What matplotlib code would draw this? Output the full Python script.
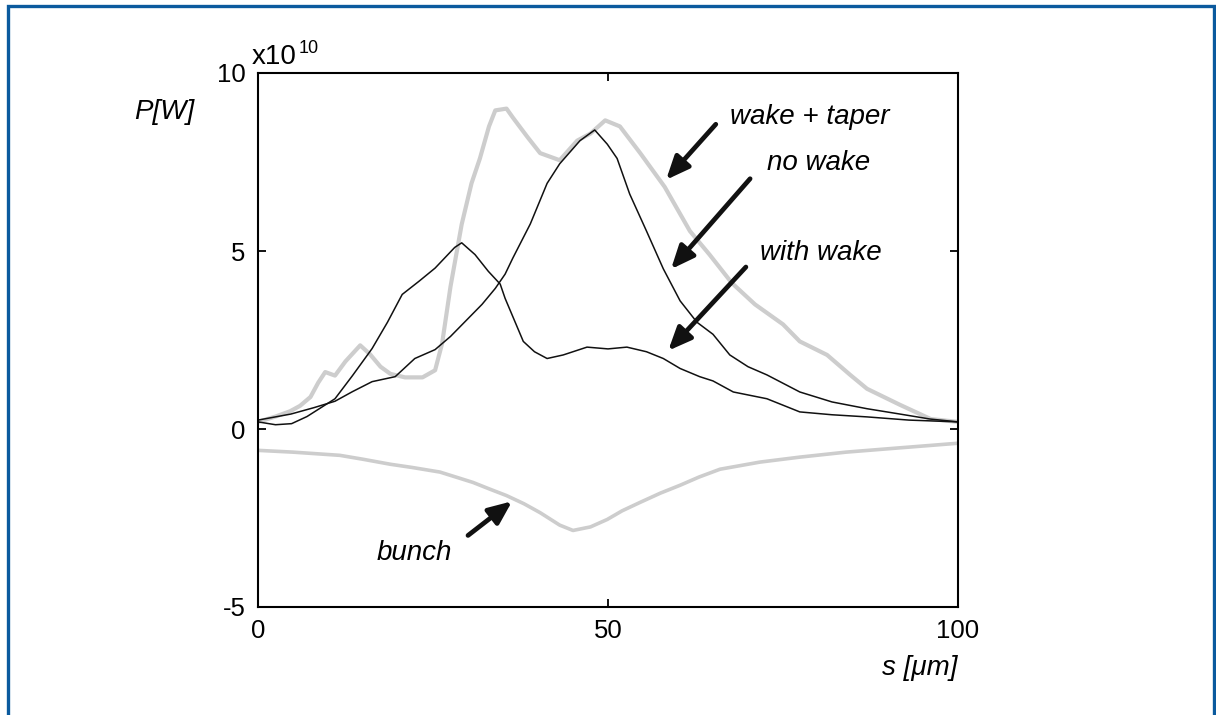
import matplotlib
matplotlib.use("Agg")
import matplotlib.pyplot as plt
from matplotlib.patches import Rectangle

plt.rcParams['font.family'] = ['Liberation Sans', 'DejaVu Sans']
plt.rcParams['axes.unicode_minus'] = False

# ---- data (power in units of 1e10 W, s in micrometres) ----
s_taper = [0, 2.5, 4.6, 6, 7.5, 8.6, 9.6, 11, 12.5, 14.6, 16, 17.5, 18.9, 21, 23.5, 25.3, 26.3,
           27.5, 29.1, 30.5, 31.7, 33.0, 33.9, 35.5, 36.4, 38.5, 40.3, 43.1, 45.6, 47.5, 49.6,
           51.7, 54.6, 58.1, 61.7, 64.5, 67.7, 71, 75, 77.4, 81.3, 84.6, 87, 91.7, 96.1, 100]
p_taper = [0.2, 0.35, 0.5, 0.65, 0.9, 1.3, 1.6, 1.5, 1.9, 2.35, 2.1, 1.75, 1.55, 1.45, 1.45, 1.65, 2.4,
           4.0, 5.75, 6.9, 7.6, 8.5, 8.95, 9.0, 8.75, 8.2, 7.75, 7.55, 8.1, 8.3, 8.67,
           8.5, 7.75, 6.8, 5.56, 4.9, 4.1, 3.5, 2.94, 2.46, 2.08, 1.52, 1.13, 0.68, 0.28, 0.2]

s_nowake = [0, 4.7, 8, 11, 13.5, 16.3, 19.6, 22.4, 25.3, 27.5, 30, 32, 33.9, 35.3, 36.4, 38.9,
            41.3, 43.1, 46, 48.1, 49.9, 51.3, 53.1, 55.5, 57.9, 60.3, 62.7, 65, 67.4, 70,
            72.7, 77.4, 82, 87, 91.7, 96, 100]
p_nowake = [0.25, 0.42, 0.6, 0.78, 1.05, 1.33, 1.47, 1.98, 2.23, 2.6, 3.1, 3.5, 3.95, 4.35, 4.8, 5.76,
            6.9, 7.45, 8.1, 8.4, 8.0, 7.6, 6.6, 5.56, 4.5, 3.6, 3.0, 2.66, 2.08, 1.75,
            1.52, 1.04, 0.76, 0.57, 0.42, 0.28, 0.2]

s_wake = [0, 2.5, 4.8, 7, 9, 11, 13.5, 16.3, 18.5, 20.6, 23, 25.3, 28.1, 29.1, 31, 32.9, 34.6,
          35.3, 37.9, 39.5, 41.3, 43.6, 47, 50, 52.7, 55.5, 57.9, 60.3, 63.1, 65, 67.9,
          72.7, 77.4, 82, 87, 93, 100]
p_wake = [0.2, 0.12, 0.15, 0.35, 0.6, 0.85, 1.5, 2.26, 3.0, 3.78, 4.15, 4.52, 5.1, 5.23, 4.9, 4.43, 4.07,
          3.67, 2.46, 2.17, 1.98, 2.08, 2.3, 2.25, 2.3, 2.17, 1.98, 1.7, 1.47, 1.35, 1.04,
          0.85, 0.48, 0.4, 0.34, 0.25, 0.2]

s_bunch = [0, 5, 11.7, 15, 18.9, 22, 26, 30.7, 33, 35.5, 38, 40.3, 43.1, 45, 47.5, 49.9, 52, 54.6,
           57.5, 60.3, 63, 66, 71.7, 77.4, 84, 91, 100]
p_bunch = [-0.6, -0.65, -0.74, -0.85, -0.99, -1.08, -1.21, -1.5, -1.68, -1.87, -2.1, -2.35, -2.7, -2.85,
           -2.75, -2.54, -2.3, -2.06, -1.8, -1.58, -1.35, -1.13, -0.93, -0.79, -0.65, -0.54, -0.4]

x_ticks = [0, 50, 100]
y_ticks = [-5, 0, 5, 10]

labels = ["wake + taper", "no wake", "with wake", "bunch"]
label_xy = [(67.4, 8.76), (72.7, 7.46), (71.7, 4.94), (16.9, -3.47)]
arrow_tail = [(65.4, 8.56), (70.3, 7.03), (69.7, 4.55), (30.0, -2.99)]
arrow_tip = [(58.3, 7.0), (59.0, 4.49), (58.6, 2.2), (36.3, -2.03)]

# ---- figure ----
fig = plt.figure(figsize=(12.16, 7.15), dpi=100)
ax = fig.add_axes([258/1216, 1-607/715, 700/1216, 534/715])

gray = '#cdcdcd'
ax.plot(s_bunch, p_bunch, color=gray, lw=2.6, solid_joinstyle='round')
ax.plot(s_taper, p_taper, color=gray, lw=3.0, solid_joinstyle='round')
ax.plot(s_nowake, p_nowake, color='#111111', lw=1.1)
ax.plot(s_wake, p_wake, color='#111111', lw=1.1)

ax.set_xlim(0, 100)
ax.set_ylim(-5, 10)
ax.set_xticks(x_ticks)
ax.set_yticks(y_ticks)
ax.tick_params(direction='in', length=6, width=1.3, top=True, right=True,
               labelsize=18.5, pad=9)
for sp in ax.spines.values():
    sp.set_linewidth(1.5)

for (lx, ly), txt in zip(label_xy, labels):
    ax.text(lx, ly, txt, fontsize=20, style='italic', ha='left', va='center')

for tail, tip in zip(arrow_tail, arrow_tip):
    ax.annotate('', xy=tip, xytext=tail,
                arrowprops=dict(arrowstyle='-|>,head_length=1.4,head_width=0.6',
                                color='#111111', lw=3.4, shrinkA=0, shrinkB=0))

# axis annotations
fig.text(252/1216, 1-64/715, 'x10', fontsize=20, ha='left', va='baseline')
fig.text(299/1216, 1-53/715, '10', fontsize=13, ha='left', va='baseline')
fig.text(134/1216, 1-112/715, 'P[W]', fontsize=20, style='italic', ha='left', va='center')
fig.text(958/1216, 1-668/715, 's [μm]', fontsize=20, style='italic', ha='right', va='center')

# blue frame (open at the bottom)
fig.patches.append(Rectangle((7.5/1216, -0.2), (1213.5-7.5)/1216, (1 - 5.5/715) + 0.2,
                             transform=fig.transFigure, fill=False,
                             edgecolor='#0b5a9e', lw=2.4, zorder=10))

fig.savefig('out.png', dpi=100)
